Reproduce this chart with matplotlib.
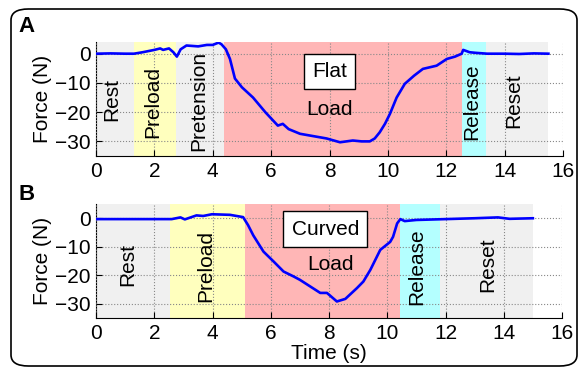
import matplotlib.pyplot as plt
from matplotlib.patches import FancyBboxPatch

plt.rcParams['font.family'] = ['Liberation Sans', 'DejaVu Sans']

# --- data ---
t_a = [0, 0.5, 1.0, 1.3, 1.6, 2.0, 2.2, 2.3, 2.5, 2.65, 2.77, 2.9, 3.1, 3.5, 3.8, 4.0,
       4.2, 4.3, 4.45, 4.59, 4.76, 5.0, 5.38, 5.8, 6.23, 6.4, 6.6, 6.99, 7.33, 7.9, 8.36,
       8.8, 9.1, 9.38, 9.55, 9.72, 9.9, 10.07, 10.3, 10.58, 10.9, 11.2, 11.67, 12.02,
       12.3, 12.53, 12.58, 12.8, 13.0, 13.4, 14.0, 14.5, 15.0, 15.5]
f_a = [0, 0.1, 0, 0, 0.5, 1.3, 1.8, 1.3, 1.8, 0.5, -1.0, 1.5, 2.8, 2.5, 3.0, 3.0,
       3.8, 3.2, 1.5, -1.8, -8.5, -11.5, -15.0, -20.0, -24.6, -24.0, -25.8, -27.4, -28.0, -29.0, -30.3,
       -29.7, -30.0, -30.0, -29.0, -26.9, -24.0, -20.6, -15.0, -10.3, -7.5, -5.2, -4.1, -1.8,
       -1.0, 0, 1.3, 0.5, 0.3, 0, 0, -0.1, 0.1, 0]
t_b = [0, 1.0, 2.0, 2.6, 2.9, 3.05, 3.45, 3.68, 3.98, 4.6, 5.05, 5.22, 5.4, 5.75, 6.1,
       6.44, 6.78, 7.0, 7.35, 7.7, 7.93, 8.27, 8.56, 8.96, 9.18, 9.42, 9.76, 10.1, 10.2,
       10.34, 10.45, 10.6, 11.0, 12.0, 13.0, 13.8, 14.2, 15.0]
f_b = [-0.3, -0.3, -0.3, -0.3, 0.3, -0.4, 1.0, 0.8, 1.4, 1.2, 0.4, -2.4, -6.0, -11.7, -15.2,
       -18.7, -20.4, -21.6, -23.9, -26.2, -26.2, -29.2, -28.3, -24.5, -22.2, -18.1, -11.1, -8.3, -6.5,
       -1.8, -0.3, -1.0, -0.6, -0.3, 0, 0.3, -0.2, 0]

# phase boundaries (start, end, label, colour key)
phases_a = [(0, 1.3, 'Rest', 'gray'), (1.3, 2.75, 'Preload', 'yellow'),
            (2.75, 4.4, 'Pretension', 'gray'), (4.4, 12.55, 'Load', 'pink'),
            (12.55, 13.35, 'Release', 'cyan'), (13.35, 15.5, 'Reset', 'gray')]
phases_b = [(0, 2.55, 'Rest', 'gray'), (2.55, 5.1, 'Preload', 'yellow'),
            (5.1, 10.45, 'Load', 'pink'), (10.45, 11.8, 'Release', 'cyan'),
            (11.8, 15.0, 'Reset', 'gray')]

# label positions (x, y) per phase
lab_a = {'Rest': (0.55, -15.5), 'Preload': (1.95, -16.5), 'Pretension': (3.53, -16),
         'Load': (8.0, -19), 'Release': (12.88, -16.4), 'Reset': (14.3, -16)}
lab_b = {'Rest': (1.1, -16.4), 'Preload': (3.78, -16.8), 'Load': (8.04, -16.4),
         'Release': (11.0, -17), 'Reset': (13.44, -16.4)}

colors = {'gray': '#f0f0f0', 'yellow': '#ffffbe', 'pink': '#ffb6b6', 'cyan': '#b4ffff'}

fig = plt.figure(figsize=(5.81, 3.69), dpi=100)

frame = FancyBboxPatch((11 / 581, 3 / 369), 566 / 581, 357 / 369,
                       boxstyle='round,pad=0,rounding_size=0.03',
                       transform=fig.transFigure, fc='none', ec='black', lw=1.2)
fig.patches.append(frame)

ax_a = fig.add_axes([96 / 581, 1 - 156 / 369, 467 / 581, 114 / 369])
ax_b = fig.add_axes([96 / 581, 1 - 318 / 369, 466 / 581, 114 / 369])


def draw_panel(ax, t, f, phases, labs, ylim, box_text, box_xy):
    ax.patch.set_alpha(0)
    for x0, x1, name, c in phases:
        ax.axvspan(x0, x1, color=colors[c], lw=0, zorder=0)
        x, y = labs[name]
        rot = 0 if name == 'Load' else 90
        ax.text(x, y, name, rotation=rot, ha='center', va='center', fontsize=15, zorder=3)
    ax.plot(t, f, color='#0000ff', lw=1.9, zorder=4)
    ax.text(box_xy[0], box_xy[1], box_text, ha='center', va='center',
            fontsize=15, zorder=5,
            bbox=dict(boxstyle='square,pad=0.4', fc='white', ec='black', lw=1.0))
    ax.set_xlim(0, 16)
    ax.set_ylim(*ylim)
    ax.set_xticks(range(0, 17, 2))
    ax.set_yticks([0, -10, -20, -30])
    ax.grid(True, linestyle=':', color='#888888', lw=0.8, zorder=1)
    ax.set_axisbelow(False)
    for s in ['top', 'right']:
        ax.spines[s].set_visible(False)
    ax.tick_params(direction='in', length=4, labelsize=15, pad=4)
    ax.set_ylabel('Force (N)', fontsize=15, labelpad=2)


draw_panel(ax_a, t_a, f_a, phases_a, lab_a, (-35, 4), 'Flat', (8.0, -6.1))
draw_panel(ax_b, t_b, f_b, phases_b, lab_b, (-35, 5), 'Curved', (7.87, -3.8))
ax_b.set_xlabel('Time (s)', fontsize=15, labelpad=1)

fig.text(18 / 581, 1 - 26 / 369, 'A', fontsize=16, fontweight='bold', va='center')
fig.text(18 / 581, 1 - 194 / 369, 'B', fontsize=16, fontweight='bold', va='center')

fig.savefig('out.png', dpi=100)
